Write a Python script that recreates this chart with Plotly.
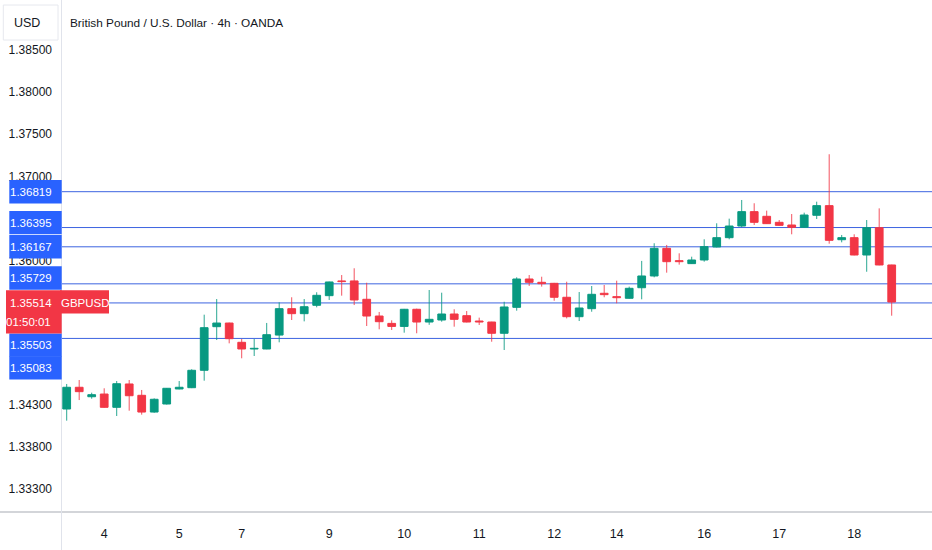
import plotly.graph_objects as go

# ---------------- data ----------------
title_text = "British Pound / U.S. Dollar · 4h · OANDA"
currency = "USD"
symbol = "GBPUSD"
countdown = "01:50:01"
last_price = 1.35514

candle_index = list(range(67))
opens = [1.34248, 1.34505, 1.34393, 1.34425, 1.34268, 1.34544, 1.34410, 1.34212, 1.34307, 1.34485,
         1.34500, 1.34706, 1.35222, 1.35265, 1.35037, 1.34958, 1.34958, 1.35123, 1.35435, 1.35376,
         1.35475, 1.35589, 1.35763, 1.35763, 1.35546, 1.35348, 1.35261, 1.35225, 1.35428, 1.35277,
         1.35301, 1.35372, 1.35352, 1.35289, 1.35277, 1.35144, 1.35451, 1.35786, 1.35747, 1.35735,
         1.35570, 1.35340, 1.35435, 1.35617, 1.35577, 1.35558, 1.35683, 1.35822, 1.36149, 1.36003,
         1.35968, 1.36011, 1.36165, 1.36275, 1.36413, 1.36583, 1.36528, 1.36457, 1.36425, 1.36398,
         1.36540, 1.36654, 1.36251, 1.36275, 1.36070, 1.36393, 1.35952]
highs = [1.34544, 1.34591, 1.34441, 1.34493, 1.34579, 1.34591, 1.34473, 1.34374, 1.34496, 1.34579,
         1.34718, 1.35364, 1.35549, 1.35270, 1.35076, 1.35076, 1.35266, 1.35510, 1.35570, 1.35549,
         1.35629, 1.35755, 1.35833, 1.35913, 1.35742, 1.35396, 1.35297, 1.35432, 1.35435, 1.35656,
         1.35624, 1.35428, 1.35407, 1.35329, 1.35280, 1.35517, 1.35806, 1.35833, 1.35813, 1.35740,
         1.35754, 1.35632, 1.35703, 1.35715, 1.35766, 1.35696, 1.36000, 1.36209, 1.36189, 1.36090,
         1.36050, 1.36256, 1.36445, 1.36500, 1.36721, 1.36682, 1.36595, 1.36484, 1.36555, 1.36571,
         1.36701, 1.37262, 1.36307, 1.36315, 1.36484, 1.36622, 1.35955]
lows = [1.34110, 1.34354, 1.34370, 1.34265, 1.34165, 1.34228, 1.34181, 1.34204, 1.34301, 1.34481,
        1.34495, 1.34583, 1.35064, 1.35025, 1.34848, 1.34875, 1.34955, 1.35037, 1.35301, 1.35285,
        1.35451, 1.35538, 1.35589, 1.35478, 1.35230, 1.35191, 1.35183, 1.35151, 1.35144, 1.35244,
        1.35281, 1.35222, 1.35273, 1.35242, 1.35044, 1.34946, 1.35411, 1.35704, 1.35696, 1.35529,
        1.35320, 1.35289, 1.35399, 1.35570, 1.35499, 1.35555, 1.35546, 1.35806, 1.35861, 1.35956,
        1.35966, 1.35991, 1.36160, 1.36256, 1.36398, 1.36425, 1.36438, 1.36419, 1.36315, 1.36395,
        1.36496, 1.36204, 1.36220, 1.36066, 1.35872, 1.35948, 1.35352]
closes = [1.34505, 1.34453, 1.34417, 1.34268, 1.34547, 1.34405, 1.34212, 1.34363, 1.34493, 1.34505,
          1.34706, 1.35210, 1.35265, 1.35080, 1.34958, 1.34966, 1.35127, 1.35435, 1.35376, 1.35458,
          1.35593, 1.35751, 1.35755, 1.35538, 1.35348, 1.35281, 1.35225, 1.35428, 1.35277, 1.35309,
          1.35372, 1.35309, 1.35277, 1.35277, 1.35144, 1.35455, 1.35786, 1.35747, 1.35731, 1.35570,
          1.35340, 1.35443, 1.35605, 1.35601, 1.35565, 1.35676, 1.35822, 1.36149, 1.35991, 1.35991,
          1.36011, 1.36169, 1.36275, 1.36413, 1.36583, 1.36457, 1.36441, 1.36421, 1.36398, 1.36543,
          1.36654, 1.36244, 1.36275, 1.36070, 1.36393, 1.35952, 1.35514]

level_prices = [1.36819, 1.36395, 1.36167, 1.35729, 1.35503, 1.35083]
level_labels = ["1.36819", "1.36395", "1.36167", "1.35729", "1.35503", "1.35083"]

y_tick_values = [1.385, 1.380, 1.375, 1.370, 1.360, 1.343, 1.338, 1.333]
y_tick_labels = ["1.38500", "1.38000", "1.37500", "1.37000", "1.36000", "1.34300", "1.33800", "1.33300"]

x_tick_index = [3, 9, 14, 21, 27, 33, 39, 44, 51, 57, 63, 69]
x_tick_labels = ["4", "5", "7", "9", "10", "11", "12", "14", "16", "17", "18", "19"]

# ---------------- style / layout ----------------
W, H = 932, 550
ML, MB = 62, 38
PW, PH = W - ML, H - MB
UP = "#089981"
DOWN = "#F23645"
BLUE = "#2962FF"
LINE_BLUE = "#3d64e0"
TXT = "#131722"
FONT = "Liberation Sans, Arial, sans-serif"
LBL = 11.5
label_offsets_px = [0, 4.9, 0, 5.8, -42.2, -29.4]   # label centre shift vs. its line (px, + up)

colors = [UP if c >= o else DOWN for o, c in zip(opens, closes)]
bases = [min(o, c) for o, c in zip(opens, closes)]
heights = [abs(c - o) for o, c in zip(opens, closes)]

fig = go.Figure()

for col in (UP, DOWN):
    wx, wy = [], []
    for i, o, h, l, c, cc in zip(candle_index, opens, highs, lows, closes, colors):
        if cc == col:
            wx += [i, i, None]
            wy += [l, h, None]
    fig.add_trace(go.Scatter(x=wx, y=wy, mode="lines", line=dict(color=col, width=1),
                             opacity=0.85, hoverinfo="skip", showlegend=False))

fig.add_trace(go.Bar(x=candle_index, y=heights, base=bases, width=0.62,
                     marker=dict(color=colors, line=dict(color=colors, width=1)),
                     hoverinfo="skip", showlegend=False))

shapes = []
for p in level_prices:
    shapes.append(dict(type="line", xref="paper", x0=0, x1=1, yref="y", y0=p, y1=p,
                       line=dict(color=LINE_BLUE, width=1), layer="below"))

# separators
shapes.append(dict(type="line", xref="paper", x0=-ML / PW, x1=1, yref="paper", y0=0, y1=0,
                   line=dict(color="#c5c7cc", width=1.5), layer="above"))
shapes.append(dict(type="line", xref="paper", xsizemode="pixel", xanchor=0, x0=-0.5, x1=-0.5,
                   yref="paper", y0=-MB / PH, y1=1, line=dict(color="#e0e3eb", width=1), layer="above"))

# USD box
shapes.append(dict(type="rect", xref="paper", xsizemode="pixel", xanchor=0, x0=-58.7, x1=-4,
                   yref="paper", ysizemode="pixel", yanchor=1, y0=-5, y1=-40,
                   line=dict(color="#e6e8ee", width=1), fillcolor="white", layer="above"))

annotations = []
for p, lab, off in zip(level_prices, level_labels, label_offsets_px):
    shapes.append(dict(type="rect", xref="paper", xsizemode="pixel", xanchor=0, x0=-52.7, x1=-0.3,
                       yref="y", ysizemode="pixel", yanchor=p, y0=off - 11.7, y1=off + 11.7,
                       line=dict(width=0), fillcolor=BLUE, layer="above"))
    annotations.append(dict(text=lab, xref="paper", x=0, xanchor="right", xshift=-8.5,
                            yref="y", y=p, yanchor="middle", yshift=off, showarrow=False,
                            font=dict(color="white", size=LBL, family=FONT)))

# last price label
shapes.append(dict(type="rect", xref="paper", xsizemode="pixel", xanchor=0, x0=-56, x1=-0.3,
                   yref="y", ysizemode="pixel", yanchor=last_price, y0=-31.6, y1=11.7,
                   line=dict(width=0), fillcolor=DOWN, layer="above"))
shapes.append(dict(type="rect", xref="paper", xsizemode="pixel", xanchor=0, x0=-2, x1=47,
                   yref="y", ysizemode="pixel", yanchor=last_price, y0=-11.6, y1=11.7,
                   line=dict(width=0), fillcolor=DOWN, layer="above"))
annotations.append(dict(text=f"{last_price:.5f}", xref="paper", x=0, xanchor="right", xshift=-8.5,
                        yref="y", y=last_price, yanchor="middle", yshift=-0.6, showarrow=False,
                        font=dict(color="white", size=LBL, family=FONT)))
annotations.append(dict(text=countdown, xref="paper", x=0, xanchor="right", xshift=-9,
                        yref="y", y=last_price, yanchor="middle", yshift=-20, showarrow=False,
                        font=dict(color="white", size=LBL, family=FONT)))
annotations.append(dict(text=symbol, xref="paper", x=0, xanchor="center", xshift=23,
                        yref="y", y=last_price, yanchor="middle", yshift=-0.6, showarrow=False,
                        font=dict(color="white", size=LBL, family=FONT)))

annotations.append(dict(text=title_text, xref="paper", x=0, xanchor="left", xshift=6,
                        yref="paper", y=1, yanchor="middle", yshift=-22.5, showarrow=False,
                        font=dict(color=TXT, size=11.8, family=FONT)))
annotations.append(dict(text=currency, xref="paper", x=0, xanchor="left", xshift=-50,
                        yref="paper", y=1, yanchor="middle", yshift=-22.5, showarrow=False,
                        font=dict(color=TXT, size=12.5, family=FONT)))

fig.update_layout(
    width=W, height=H, autosize=False,
    margin=dict(l=ML, r=0, t=0, b=MB, pad=0),
    paper_bgcolor="white", plot_bgcolor="white",
    barmode="overlay", showlegend=False,
    shapes=shapes, annotations=annotations,
    font=dict(family=FONT, color=TXT, size=12),
    xaxis=dict(range=[-0.376, 69.224], tickmode="array", tickvals=x_tick_index, ticktext=x_tick_labels,
               showgrid=False, zeroline=False, showline=False, ticks="", ticklabelstandoff=12,
               tickfont=dict(size=12.5, color=TXT, family=FONT), fixedrange=True),
    yaxis=dict(range=[1.330293, 1.390872], side="left", tickmode="array", tickvals=y_tick_values,
               ticktext=y_tick_labels, showgrid=False, zeroline=False, showline=False, ticks="",
               ticklabelstandoff=9, tickfont=dict(size=12, color=TXT, family=FONT), fixedrange=True),
)

fig.write_html("out.html", config={"displayModeBar": False},
               post_script="document.body.style.margin='0';document.body.style.overflow='hidden';")
